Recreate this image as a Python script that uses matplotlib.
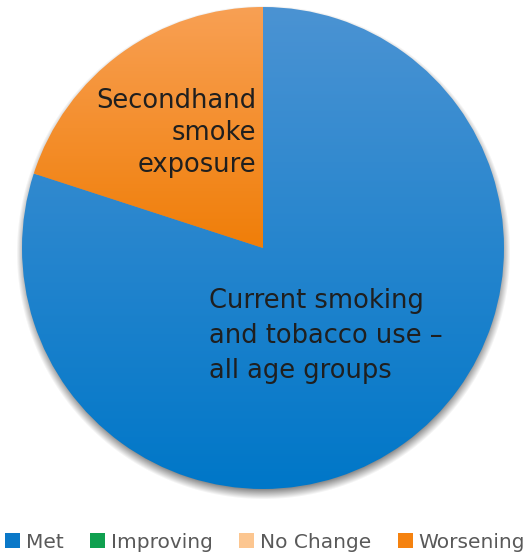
import numpy as np
import matplotlib.pyplot as plt
from matplotlib.patches import Patch
from matplotlib.colors import LinearSegmentedColormap

# dati
categories = ["Met", "Improving", "No Change", "Worsening"]
legend_colors = ["#0a78c8", "#0fa04f", "#fcc690", "#f5820f"]
slice_names = ["Current smoking\nand tobacco use \u2013\nall age groups", "Secondhand\nsmoke\nexposure"]
slice_values = [4, 1]
# gradienti (alto, basso)
slice_grad = [("#4b93d3", "#0077c8"), ("#f8a054", "#f07e08")]

W, H = 530, 554
fig = plt.figure(figsize=(W / 100, H / 100), dpi=100)
ax = fig.add_axes([0, 0, 1, 1])
ax.set_xlim(0, W)
ax.set_ylim(0, H)
ax.set_aspect("equal")
ax.axis("off")

cx, cy, R = 263, H - 248, 241

# ombra morbida sotto la torta
xs = np.arange(W)
ys = np.arange(H)
X, Y = np.meshgrid(xs, ys)
d = np.hypot(X - cx, Y - (cy - 5))
alpha = np.clip((R + 6 - d) / 10, 0, 1) * 0.45
shadow = np.zeros((H, W, 4))
shadow[..., 3] = alpha
ax.imshow(shadow, extent=(0, W, 0, H), origin="lower", zorder=0)

wedges, _ = ax.pie(slice_values, startangle=90, counterclock=False, radius=R,
                   center=(cx, cy), frame=True,
                   wedgeprops=dict(linewidth=0, edgecolor="none"))
ax.set_xlim(0, W)
ax.set_ylim(0, H)
ax.axis("off")

for w, (top, bot) in zip(wedges, slice_grad):
    w.set_facecolor("none")
    bb = w.get_path().get_extents(w.get_transform() - ax.transData)
    cmap = LinearSegmentedColormap.from_list("g", [bot, top])
    grad = np.linspace(0, 1, 256).reshape(-1, 1)
    im = ax.imshow(grad, cmap=cmap, extent=(bb.x0, bb.x1, bb.y0, bb.y1),
                   origin="lower", aspect="auto", zorder=1)
    im.set_clip_path(w)

ax.text(256, H - 133, slice_names[1], ha="right", va="center", fontsize=18.5,
        color="#1f1f1f", linespacing=1.3, zorder=3)
ax.text(209, H - 336, slice_names[0], ha="left", va="center", fontsize=18.5,
        color="#1f1f1f", linespacing=1.45, zorder=3)

handles = [Patch(facecolor=c, edgecolor="none") for c in legend_colors]
leg = ax.legend(handles, categories, loc="lower center", bbox_to_anchor=(0.5, -0.018),
                ncol=4, frameon=False, fontsize=14.5, handlelength=0.75,
                handleheight=0.75, handletextpad=0.3, columnspacing=1.3,
                borderaxespad=0.2)
for t in leg.get_texts():
    t.set_color("#595959")

fig.savefig("out.png", dpi=100)
